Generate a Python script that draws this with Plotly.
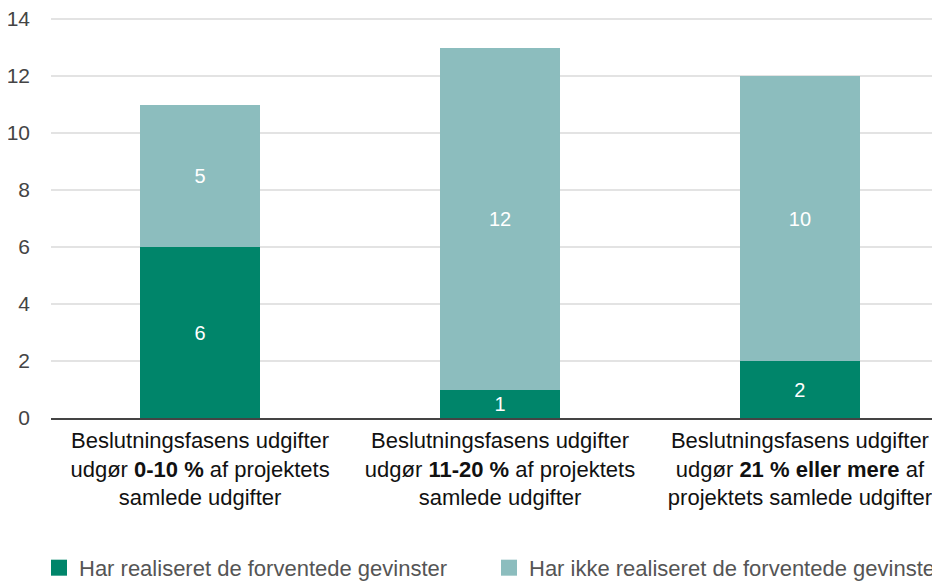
import plotly.graph_objects as go

categories = [
    "Beslutningsfasens udgifter<br>udgør <b>0-10 %</b> af projektets<br>samlede udgifter",
    "Beslutningsfasens udgifter<br>udgør <b>11-20 %</b> af projektets<br>samlede udgifter",
    "Beslutningsfasens udgifter<br>udgør <b>21 % eller mere</b> af<br>projektets samlede udgifter",
]
series_names = ["Har realiseret de forventede gevinster", "Har ikke realiseret de forventede gevinster"]
realized = [6, 1, 2]
not_realized = [5, 12, 10]
y_ticks = [0, 2, 4, 6, 8, 10, 12, 14]

dark = "#00856A"
light = "#8CBDBE"
FONT = "Liberation Sans, Arial, sans-serif"

x = [0, 1, 2]
fig = go.Figure()
for name, vals, col, lg in [(series_names[0], realized, dark, "legend"),
                            (series_names[1], not_realized, light, "legend2")]:
    fig.add_trace(go.Bar(
        x=x, y=vals, name=name, marker=dict(color=col, line=dict(width=0)),
        width=0.4, text=[str(v) for v in vals], textposition="inside",
        insidetextanchor="middle", textangle=0, constraintext="none",
        textfont=dict(color="white", size=20, family=FONT),
        showlegend=False, hoverinfo="skip",
    ))
    fig.add_trace(go.Scatter(
        x=[None], y=[None], mode="markers", name=name, legend=lg,
        marker=dict(symbol="square", size=18, color=col), showlegend=True,
    ))

leg_common = dict(orientation="h", xanchor="left", yref="container", y=0.038, yanchor="middle",
                  font=dict(size=22, color="#555", family=FONT), bgcolor="rgba(0,0,0,0)")

fig.update_layout(
    width=940, height=582,
    margin=dict(l=43, r=8, t=0, b=172),
    barmode="stack",
    plot_bgcolor="white", paper_bgcolor="white",
    font=dict(family=FONT, color="#222"),
    legend=dict(x=-0.0135, **leg_common),
    legend2=dict(x=0.496, **leg_common),
    xaxis=dict(tickmode="array", tickvals=x, ticktext=categories, range=[-0.497, 2.467],
               showgrid=False, showline=True, linecolor="#444", linewidth=1.5, automargin=False,
               tickfont=dict(size=22, color="#111", family=FONT), ticks="", zeroline=False,
               ticklabelstandoff=2),
    yaxis=dict(range=[0, 14.386], tickvals=y_ticks, showgrid=True, gridcolor="#e3e3e3", gridwidth=1.5,
               zeroline=False, tickfont=dict(size=21, color="#444", family=FONT), automargin=False,
               ticklabelstandoff=20, ticks="", ticklabeloverflow="allow"),
)
fig.write_html("out.html")
